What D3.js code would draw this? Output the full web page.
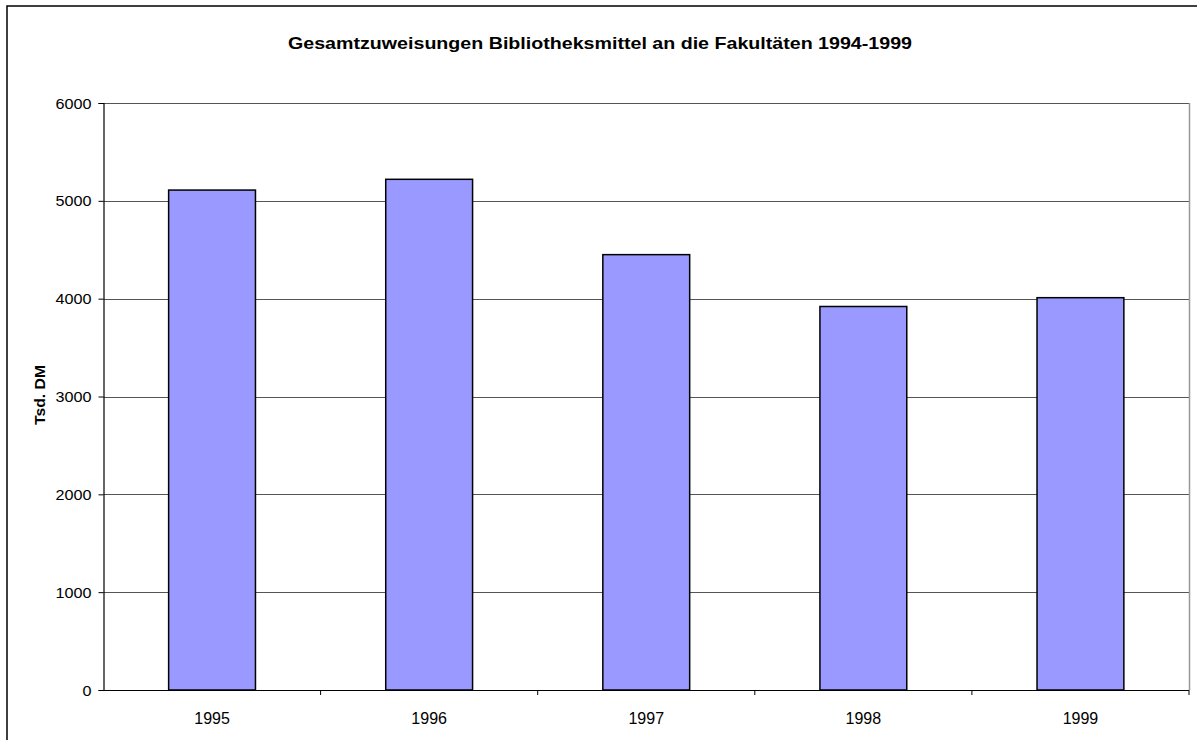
<!DOCTYPE html>
<html><head><meta charset="utf-8">
<script src="https://cdn.jsdelivr.net/npm/d3@7/dist/d3.min.js"></script>
<style>body{margin:0;background:#fff}svg{display:block}</style>
</head><body>
<script>
const categories = ["1995","1996","1997","1998","1999"];
const values = [5110, 5220, 4450, 3920, 4010];
const yTicks = [0,1000,2000,3000,4000,5000,6000];
const title = "Gesamtzuweisungen Bibliotheksmittel an die Fakultäten 1994-1999";
const yLabel = "Tsd. DM";

const W=1197,H=740;
const m={l:103.5,r:1189,t:103,b:690};
const svg=d3.select("body").append("svg").attr("width",W).attr("height",H);
const font="Liberation Sans, Arial, sans-serif";

svg.append("rect").attr("x",7).attr("y",6).attr("width",W).attr("height",H)
  .attr("fill","#fff").attr("stroke","#000").attr("stroke-width",1.5);

const x=d3.scaleBand().domain(categories).range([m.l,m.r]).paddingInner(0.6).paddingOuter(0.3);
const xb=d3.scaleBand().domain(categories).range([m.l,m.r]);
const y=d3.scaleLinear().domain([0,6000]).range([m.b,m.t]);

// gridlines
svg.append("g").selectAll("line").data(yTicks.filter(d=>d>0)).join("line")
  .attr("x1",m.l).attr("x2",m.r).attr("y1",d=>Math.round(y(d))+0.5).attr("y2",d=>Math.round(y(d))+0.5)
  .attr("stroke","#555").attr("stroke-width",1);
// right border
svg.append("line").attr("x1",m.r+0.5).attr("x2",m.r+0.5).attr("y1",m.t).attr("y2",m.b)
  .attr("stroke","#999").attr("stroke-width",1.5);

// bars
svg.append("g").selectAll("rect").data(values).join("rect")
  .attr("x",(d,i)=>x(categories[i])).attr("width",x.bandwidth())
  .attr("y",d=>y(d)).attr("height",d=>y(0)-y(d))
  .attr("fill","#9999FF").attr("stroke","#000").attr("stroke-width",1.5);

// y axis
const ya=svg.append("g").attr("transform",`translate(${m.l},0)`)
  .call(d3.axisLeft(y).tickValues(yTicks).tickSize(5).tickPadding(7).tickFormat(d3.format("d")));
ya.select(".domain").attr("stroke","#000").attr("stroke-width",1.2);
ya.selectAll("line").attr("stroke","#000");
ya.selectAll("text").attr("font-family",font).attr("font-size",14).attr("fill","#000")
  .attr("dy","0.36em")
  .attr("textLength",d=>String(d).length*9).attr("lengthAdjust","spacingAndGlyphs");

// x axis
const xa=svg.append("g").attr("transform",`translate(0,${m.b})`)
  .call(d3.axisBottom(x).tickSize(0).tickPadding(0));
xa.select(".domain").attr("d",`M${m.l},0.5H${m.r}`).attr("stroke","#000").attr("stroke-width",1.2);
xa.selectAll("text").attr("font-family",font).attr("font-size",16).attr("fill","#000")
  .attr("y",34).attr("dy",0);
xa.append("g").selectAll("line").data(categories).join("line")
  .attr("x1",d=>xb(d)+xb.bandwidth()).attr("x2",d=>xb(d)+xb.bandwidth())
  .attr("y1",0).attr("y2",5).attr("stroke","#000");

// title
svg.append("text").attr("x",600).attr("y",49).attr("text-anchor","middle")
  .attr("font-family",font).attr("font-weight","bold").attr("font-size",16.5)
  .attr("textLength",624).attr("lengthAdjust","spacingAndGlyphs").text(title);
// y label
svg.append("text").attr("transform","translate(45,395) rotate(-90)").attr("text-anchor","middle")
  .attr("font-family",font).attr("font-weight","bold").attr("font-size",14)
  .attr("textLength",60).attr("lengthAdjust","spacingAndGlyphs").text(yLabel);
</script>
</body></html>
